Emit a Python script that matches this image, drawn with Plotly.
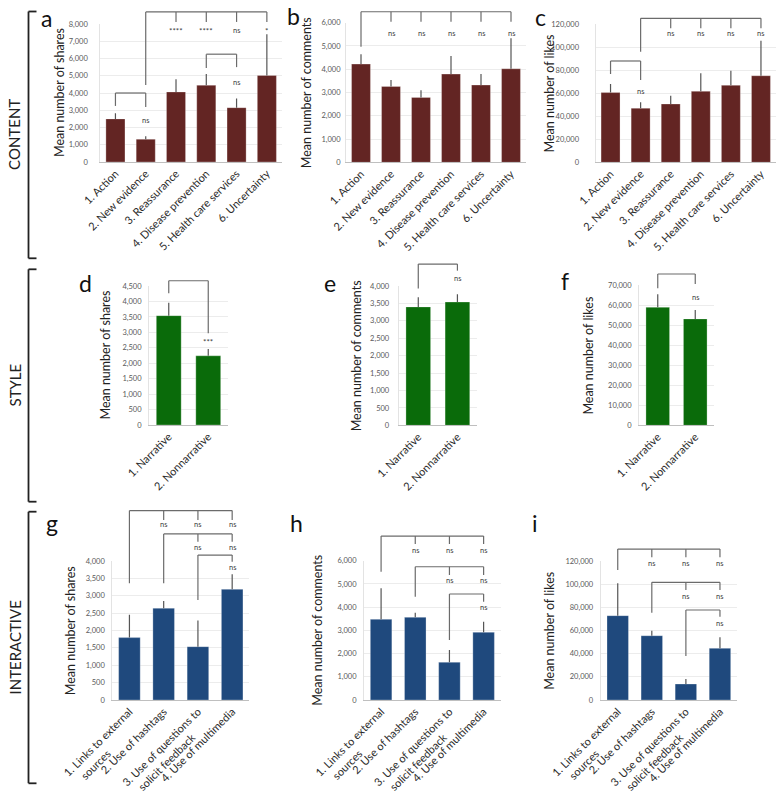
import plotly.graph_objects as go

W, H = 782, 800

# ---------------- data ----------------
content_cats = ["1. Action", "2. New evidence", "3. Reassurance", "4. Disease prevention",
                "5. Health care services", "6. Uncertainty"]
style_cats = ["1. Narrative", "2. Nonnarrative"]
inter_cats = ["1. Links to external<br>sources", "2. Use of hashtags",
              "3. Use of questions to<br>solicit feedback", "4. Use of multimedia"]

a_shares = [2500, 1320, 4060, 4450, 3150, 5020]
a_shares_err = [330, 180, 730, 650, 530, 2380]
b_comments = [4220, 3260, 2790, 3790, 3320, 4020]
b_comments_err = [420, 280, 310, 780, 470, 1310]
c_likes = [60500, 46900, 50600, 61600, 66800, 75100]
c_likes_err = [7400, 5200, 7200, 15600, 12700, 30400]

d_shares = [3540, 2240]
d_shares_err = [420, 220]
e_comments = [3400, 3540]
e_comments_err = [280, 220]
f_likes = [59000, 53200]
f_likes_err = [6500, 4500]

g_shares = [1795, 2640, 1535, 3185]
g_shares_err = [655, 210, 750, 435]
h_comments = [3475, 3560, 1625, 2915]
h_comments_err = [1335, 200, 530, 455]
i_likes = [72800, 55500, 13800, 44600]
i_likes_err = [27900, 4300, 4300, 9500]

# significance brackets: start category, end categories, bracket height, leg ends, labels
a_sig = [
    dict(start=1, ends=[2, 3, 4, 5], top=8700, start_low=4460, end_low=8120,
         labels=["****", "****", "ns", "*"], label_y=7600),
    dict(start=0, ends=[1], top=4000, start_low=3250, end_low=3190, labels=["ns"], label_y=2390),
    dict(start=3, ends=[4], top=6250, start_low=5450, end_low=5500, labels=["ns"], label_y=4600),
]
b_sig = [
    dict(start=0, ends=[1, 2, 3, 4, 5], top=6470, start_low=4970, end_low=6040,
         labels=["ns"] * 5, label_y=5540),
]
c_sig = [
    dict(start=1, ends=[2, 3, 4, 5], top=124900, start_low=96000, end_low=116300,
         labels=["ns"] * 4, label_y=111900),
    dict(start=0, ends=[1], top=87900, start_low=76600, end_low=71400, labels=["ns"], label_y=61300),
]
d_sig = [dict(start=0, ends=[1], top=4670, start_low=4265, end_low=2970, labels=["***"], label_y=2700)]
e_sig = [dict(start=0, ends=[1], top=4630, start_low=3930, end_low=4440, labels=["ns"], label_y=4220)]
f_sig = [dict(start=0, ends=[1], top=75650, start_low=68500, end_low=70650, labels=["ns"], label_y=63800)]
g_sig = [
    dict(start=0, ends=[1, 2, 3], top=5450, start_low=3360, end_low=5180, labels=["ns"] * 3, label_y=5056),
    dict(start=1, ends=[2, 3], top=4780, start_low=3360, end_low=4555, labels=["ns"] * 2, label_y=4394),
    dict(start=2, ends=[3], top=4170, start_low=2880, end_low=3980, labels=["ns"], label_y=3807),
]
h_sig = [
    dict(start=0, ends=[1, 2, 3], top=7060, start_low=5525, end_low=6718, labels=["ns"] * 3, label_y=6460),
    dict(start=1, ends=[2, 3], top=5740, start_low=4450, end_low=5383, labels=["ns"] * 2, label_y=5168),
    dict(start=2, ends=[3], top=4565, start_low=2584, end_low=4233, labels=["ns"], label_y=3992),
]
i_sig = [
    dict(start=0, ends=[1, 2, 3], top=130300, start_low=112200, end_low=123200, labels=["ns"] * 3, label_y=118000),
    dict(start=1, ends=[2, 3], top=101600, start_low=75400, end_low=94950, labels=["ns"] * 2, label_y=89770),
    dict(start=2, ends=[3], top=77700, start_low=38000, end_low=71900, labels=["ns"], label_y=66210),
]

# ---------------- styling / layout ----------------
RED = "#632523"
GREEN = "#0a6b0a"
BLUE = "#1f497d"
FONT = "Lato"
LINE = "#6b6b6b"
XFONT = 11


def centered(label):
    """Pad the second line of a two-line rotated tick label so it sits centred."""
    parts = label.split("<br>")
    if len(parts) < 2:
        return label
    pad = int(round((len(parts[0]) - len(parts[1])) * 1.25))
    return parts[0] + "<br>" + parts[1] + "\u00a0" * pad


panels = [
    # letter, cats, vals, err, color, ytitle, ymax, dtick, (x0,x1,y0,y1) px, title x px, standoff, sig, letter pos
    ("a", content_cats, a_shares, a_shares_err, RED, "Mean number of shares", 8000, 1000,
     (100.3, 282, 24, 162), 60, 10, a_sig, (46, 18)),
    ("b", content_cats, b_comments, b_comments_err, RED, "Mean number of comments", 6000, 1000,
     (346, 526, 22.7, 162.3), 306.7, 3, b_sig, (293, 16)),
    ("c", content_cats, c_likes, c_likes_err, RED, "Mean number of likes", 120000, 20000,
     (595.5, 776, 24, 162.3), 549.3, 14, c_sig, (540.7, 17)),
    ("d", style_cats, d_shares, d_shares_err, GREEN, "Mean number of shares", 4500, 500,
     (149, 228, 286, 425), 105, 5, d_sig, (85, 283)),
    ("e", style_cats, e_comments, e_comments_err, GREEN, "Mean number of comments", 4000, 500,
     (398.7, 477, 286, 425.3), 356.7, 7, e_sig, (330, 283)),
    ("f", style_cats, f_likes, f_likes_err, GREEN, "Mean number of likes", 70000, 10000,
     (639, 714, 285.3, 425.3), 588.3, 5, f_sig, (565, 281)),
    ("g", inter_cats, g_shares, g_shares_err, BLUE, "Mean number of shares", 4000, 500,
     (112.3, 249.3, 561, 700), 70.7, 5, g_sig, (52, 523)),
    ("h", inter_cats, h_comments, h_comments_err, BLUE, "Mean number of comments", 6000, 1000,
     (364, 500.7, 560.7, 700), 317.3, 5, h_sig, (296, 523)),
    ("i", inter_cats, i_likes, i_likes_err, BLUE, "Mean number of likes", 120000, 20000,
     (600.7, 737, 561, 700), 549.3, 5, i_sig, (535, 523)),
]

fig = go.Figure()
shapes = []
annotations = []
layout = {}

for k, (letter, cats, vals, err, color, ytitle, ymax, dtick, box, tx, standoff, sig, lpos) in enumerate(panels):
    n = k + 1
    xname = "x" if n == 1 else f"x{n}"
    yname = "y" if n == 1 else f"y{n}"
    xkey = "xaxis" if n == 1 else f"xaxis{n}"
    ykey = "yaxis" if n == 1 else f"yaxis{n}"
    x0, x1, y0, y1 = box
    fig.add_trace(go.Bar(
        x=cats, y=vals, xaxis=xname, yaxis=yname, showlegend=False,
        marker=dict(color=color, line=dict(color="rgba(255,255,255,0.35)", width=0.8)),
        error_y=dict(type="data", symmetric=False, array=err, arrayminus=[0] * len(err),
                     width=0, thickness=1.2, color="#555555"),
    ))
    layout[xkey] = dict(
        domain=[x0 / W, x1 / W], anchor=yname, type="category", automargin=False,
        categoryorder="array", categoryarray=cats, range=[-0.5, len(cats) - 0.5],
        tickmode="array", tickvals=cats, ticktext=[centered(c) for c in cats],
        showline=True, linecolor="#bfbfbf", linewidth=1, showgrid=False, ticks="",
        tickangle=-45, tickfont=dict(family=FONT, size=XFONT, color="#2b2b2b"), fixedrange=True,
    )
    layout[ykey] = dict(
        domain=[1 - y1 / H, 1 - y0 / H], anchor=xname, range=[0, ymax], dtick=dtick,
        automargin=False,
        tickformat=",d", showline=True, linecolor="#e3e3e3", linewidth=1,
        showgrid=True, gridcolor="#ececec", gridwidth=1, zeroline=False, ticks="",
        ticklabelstandoff=standoff, tickfont=dict(family=FONT, size=7.5, color="#595959"),
        fixedrange=True,
    )
    # y title
    annotations.append(dict(
        text=ytitle, x=tx / W, y=1 - (y0 + y1) / 2 / H, xref="paper", yref="paper",
        textangle=-90, showarrow=False, xanchor="center", yanchor="middle",
        font=dict(family=FONT, size=12.5, color="#222222"),
    ))
    # panel letter
    annotations.append(dict(
        text=letter, x=lpos[0] / W, y=1 - lpos[1] / H, xref="paper", yref="paper",
        showarrow=False, xanchor="center", yanchor="middle",
        font=dict(family=FONT, size=23, color="#111111"),
    ))
    # significance brackets
    nc = len(cats)
    xd = f"{xname} domain"
    yd = f"{yname} domain"
    for s in sig:
        xs = (s["start"] + 0.5) / nc
        xe = (max(s["ends"]) + 0.5) / nc
        shapes.append(dict(type="line", xref=xd, yref=yd, x0=xs, x1=xe,
                           y0=s["top"] / ymax, y1=s["top"] / ymax, line=dict(color=LINE, width=1.2)))
        shapes.append(dict(type="line", xref=xd, yref=yd, x0=xs, x1=xs,
                           y0=s["top"] / ymax, y1=s["start_low"] / ymax, line=dict(color=LINE, width=1.2)))
        for e_i, lab in zip(s["ends"], s["labels"]):
            xc = (e_i + 0.5) / nc
            shapes.append(dict(type="line", xref=xd, yref=yd, x0=xc, x1=xc,
                               y0=s["top"] / ymax, y1=s["end_low"] / ymax, line=dict(color=LINE, width=1.2)))
            annotations.append(dict(
                text=lab, xref=xd, yref=yd, x=xc, y=s["label_y"] / ymax, showarrow=False,
                xanchor="center", yanchor="middle",
                font=dict(family=FONT, size=8 if "*" in lab else 7.5, color="#404040"),
            ))

# section brackets and labels
sections = [("CONTENT", 11.5, 258.3), ("STYLE", 269.3, 501.7), ("INTERACTIVE", 511.7, 783.3)]
for name, t, b in sections:
    bx, tick = 28.5, 36.5
    for (xa, ya, xb, yb) in [(bx, t, bx, b), (bx, t, tick, t), (bx, b, tick, b)]:
        shapes.append(dict(type="line", xref="paper", yref="paper",
                           x0=xa / W, x1=xb / W, y0=1 - ya / H, y1=1 - yb / H,
                           line=dict(color="#222222", width=1.8)))
    annotations.append(dict(
        text=name, x=14 / W, y=1 - (t + b) / 2 / H, xref="paper", yref="paper",
        textangle=-90, showarrow=False, xanchor="center", yanchor="middle",
        font=dict(family=FONT, size=15, color="#222222"),
    ))

fig.update_layout(
    template="none",
    width=W, height=H, margin=dict(l=0, r=0, t=0, b=0, pad=0, autoexpand=False),
    paper_bgcolor="white", plot_bgcolor="white", bargap=0.37,
    shapes=shapes, annotations=annotations, font=dict(family=FONT), **layout,
)

fig.write_html("out.html", config={"displayModeBar": False, "staticPlot": True},
               post_script="document.body.style.margin='0';document.body.style.padding='0';")
